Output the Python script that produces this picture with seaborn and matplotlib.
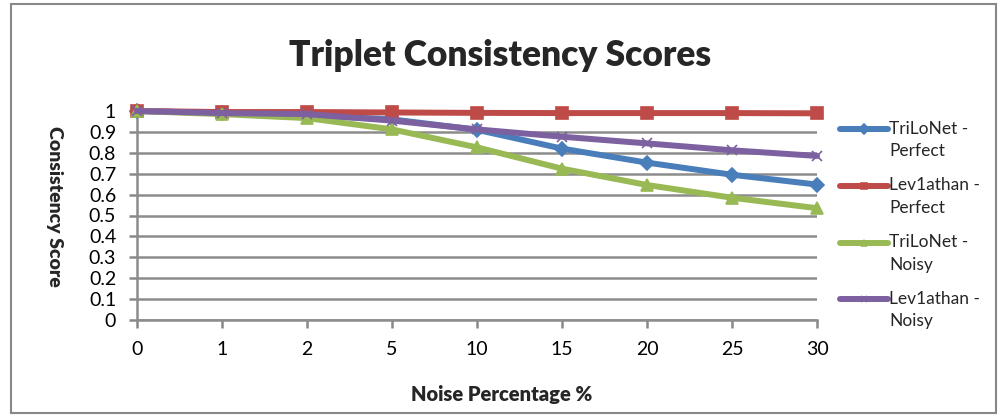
import matplotlib
matplotlib.use("Agg")
import matplotlib.pyplot as plt
import matplotlib.patches as mpatches
from matplotlib.legend_handler import HandlerLine2D
import numpy as np
import seaborn as sns
import pandas as pd

noise_levels = ["0", "1", "2", "5", "10", "15", "20", "25", "30"]
trilonet_perfect = [1.0, 0.99, 0.98, 0.96, 0.91, 0.82, 0.753, 0.695, 0.648]
lev1athan_perfect = [1.0, 0.995, 0.995, 0.993, 0.991, 0.99, 0.99, 0.99, 0.989]
trilonet_noisy = [1.0, 0.985, 0.966, 0.912, 0.826, 0.724, 0.646, 0.585, 0.535]
lev1athan_noisy = [1.0, 0.99, 0.985, 0.954, 0.912, 0.877, 0.845, 0.812, 0.785]

series_names = ["TriLoNet -\nPerfect", "Lev1athan -\nPerfect", "TriLoNet -\nNoisy", "Lev1athan -\nNoisy"]
series_values = [trilonet_perfect, lev1athan_perfect, trilonet_noisy, lev1athan_noisy]
colors = ["#4a7ebb", "#be4b48", "#98b954", "#7d60a0"]
markers = ["D", "s", "^", "x"]
marker_sizes = [7.5, 8, 8.5, 7]


class FirstLineHandler(HandlerLine2D):
    """Legend line drawn level with the first line of a two-line label."""

    def __init__(self, shift, **kw):
        super().__init__(**kw)
        self.shift = shift

    def create_artists(self, legend, orig_handle, xdescent, ydescent, width,
                       height, fontsize, trans):
        artists = super().create_artists(legend, orig_handle, xdescent, ydescent,
                                         width, height, fontsize, trans)
        for a in artists:
            a.set_ydata(np.asarray(a.get_ydata(), dtype=float) + self.shift)
        return artists


sns.set_theme(style="white")
plt.rcParams["font.family"] = ["Lato", "DejaVu Sans"]

fig = plt.figure(figsize=(10, 4.16), dpi=100)
ax = fig.add_axes([0.137, 1 - 320 / 416, 0.68, 209 / 416])

for name, vals, c, m, ms in zip(series_names, series_values, colors, markers, marker_sizes):
    df = pd.DataFrame({"pos": range(len(vals)), "score": vals})
    sns.lineplot(data=df, x="pos", y="score", color=c, marker=m, linewidth=4.3,
                 markersize=ms, markeredgewidth=1.2, markeredgecolor=c,
                 ax=ax, zorder=3, clip_on=False)

ax.set_xlim(0, len(noise_levels) - 1)
ax.set_ylim(0, 1)
ax.set_xticks(range(len(noise_levels)))
ax.set_xticklabels(noise_levels)
ax.set_yticks([i / 10 for i in range(11)])
ax.set_yticklabels(["0"] + [f"{i/10:.1f}" for i in range(1, 10)] + ["1"])
ax.tick_params(axis="both", labelsize=14, colors="#888888", labelcolor="black",
               length=6, width=1.8, direction="out", bottom=True, left=True)
ax.tick_params(axis="x", pad=9)
ax.tick_params(axis="y", pad=9)
ax.grid(axis="y", color="#8c8c8c", linewidth=1.8, zorder=0)
ax.set_axisbelow(True)
for side in ["top", "right"]:
    ax.spines[side].set_visible(False)
for side in ["left", "bottom"]:
    ax.spines[side].set_color("#8c8c8c")
    ax.spines[side].set_linewidth(1.8)

ax.set_xlabel("Noise Percentage %", fontsize=14.5, fontweight="heavy")
ax.xaxis.set_label_coords((502 - 137) / 680, -(385 - 320) / 209, transform=ax.transAxes)
ax.set_ylabel("Consistency Score", fontsize=14, fontweight="heavy", rotation=-90,
              va="center")
ax.yaxis.set_label_coords(-(137 - 55) / 680, (320 - 206) / 209)

fig.text(0.5, 1 - 55 / 416, "Triplet Consistency Scores", ha="center", va="center",
         fontsize=25.5, fontweight="heavy")

# legend on the right, handle level with the first line of each label
handles = [plt.Line2D([0], [0], color=c, marker=m, lw=4.3, markersize=5,
                      markeredgecolor=c, markeredgewidth=1.2)
           for c, m in zip(colors, markers)]
leg = fig.legend(handles, series_names, loc="center left",
                 bbox_to_anchor=(840 / 1000, 1 - 225 / 416),
                 frameon=False, fontsize=12.5, handlelength=2.75, handletextpad=0.1,
                 labelspacing=1.05, borderaxespad=0, borderpad=0,
                 handler_map={plt.Line2D: FirstLineHandler(shift=8.0)})
for t in leg.get_texts():
    t.set_linespacing(1.5)

# chart border
fig.patches.append(mpatches.Rectangle((0.011, 0.008), 0.985, 0.982, transform=fig.transFigure,
                                      fill=False, edgecolor="#888888", linewidth=1.5))

fig.savefig("out.png", dpi=100, facecolor="white")
